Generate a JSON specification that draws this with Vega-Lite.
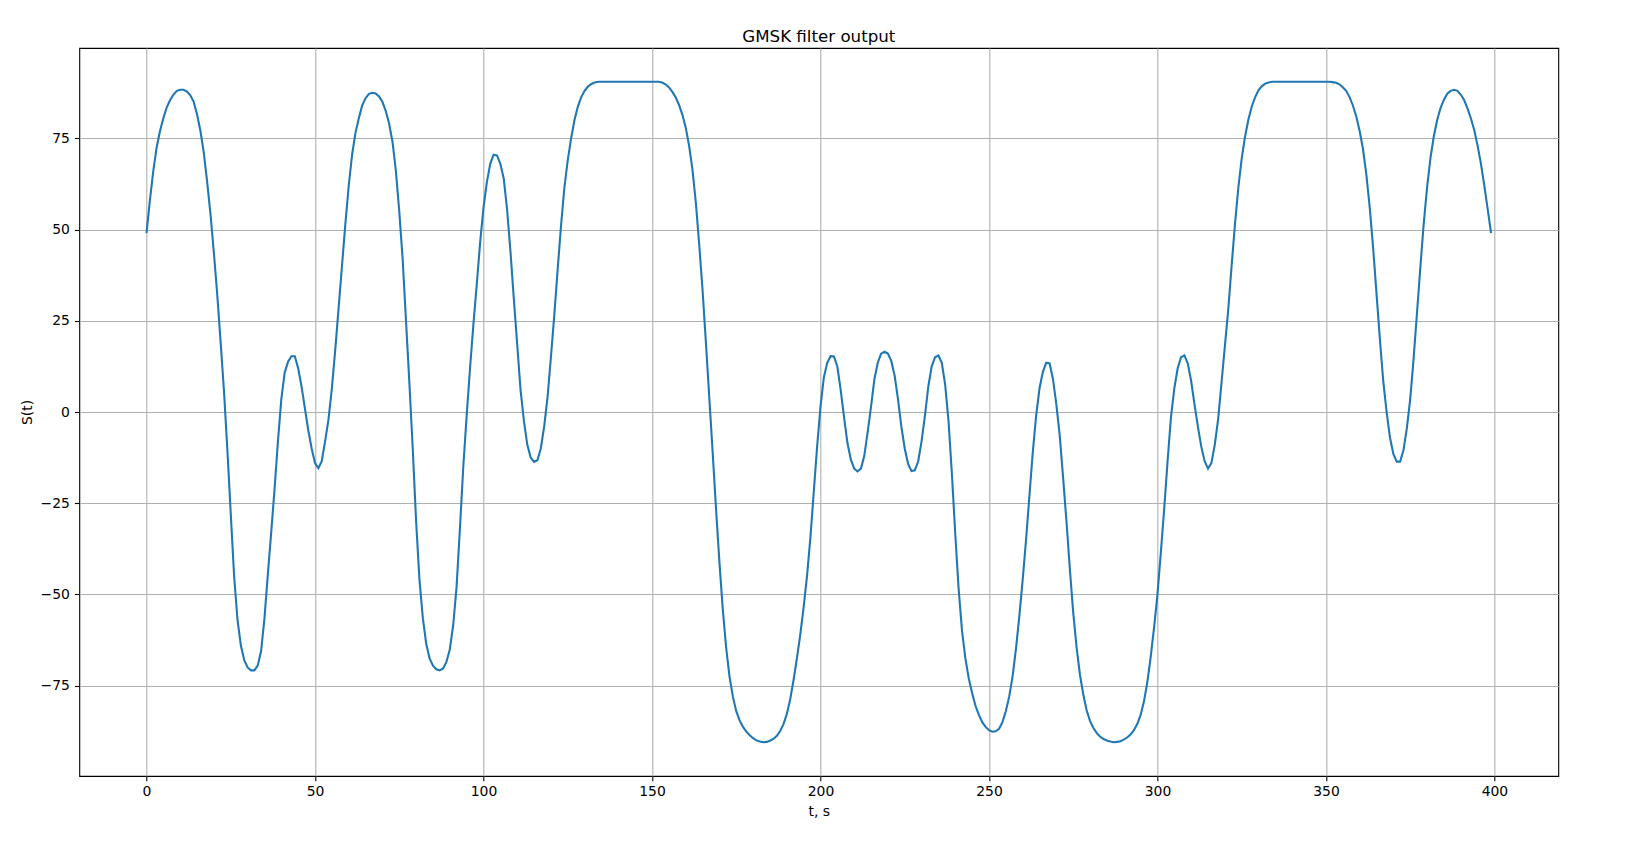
{
"$schema": "https://vega.github.io/schema/vega-lite/v6.json",
"width": 1479, "height": 728,
"autosize": {"type": "none"},
"padding": {"left": 79.3, "top": 48, "right": 87.7, "bottom": 84},
"background": "white",
"title": {"text": "GMSK filter output", "font": "DejaVu Sans", "fontSize": 16.67, "fontWeight": "normal", "color": "black", "anchor": "middle", "offset": 8, "baseline": "alphabetic", "dy": 19},
"config": {
 "view": {"stroke": "black", "strokeWidth": 1.1},
 "axis": {"domain": false, "ticks": true, "tickColor": "black", "tickSize": 4.86, "tickWidth": 1.1, "grid": true, "gridColor": "#b0b0b0", "gridWidth": 1.1, "gridOpacity": 1, "labelFont": "DejaVu Sans", "labelFontSize": 13.9, "labelColor": "black", "titleFont": "DejaVu Sans", "titleFontSize": 13.9, "titleFontWeight": "normal", "titleColor": "black"}
},
"data": {"values": [
{"t":0,"s":49},{"t":1,"s":58},{"t":2,"s":66},{"t":3,"s":72.5},{"t":4,"s":77},{"t":5,"s":80.5},{"t":6,"s":83.5},{"t":7,"s":85.5},{"t":8,"s":87},{"t":9,"s":88},
{"t":10,"s":88.3},{"t":11,"s":88.3},{"t":12,"s":87.8},{"t":13,"s":86.8},{"t":14,"s":85},{"t":15,"s":81.5},{"t":16,"s":77},{"t":17,"s":71},{"t":18,"s":63},{"t":19,"s":54},
{"t":20,"s":43.5},{"t":21,"s":32},{"t":22,"s":19},{"t":23,"s":5.5},{"t":24,"s":-10.5},{"t":25,"s":-28},{"t":26,"s":-45},{"t":27,"s":-57},{"t":28,"s":-64},{"t":29,"s":-68},
{"t":30,"s":-70},{"t":31,"s":-70.8},{"t":32,"s":-70.8},{"t":33,"s":-69.5},{"t":34,"s":-65.5},{"t":35,"s":-56.5},{"t":36,"s":-44.5},{"t":37,"s":-33},{"t":38,"s":-21},{"t":39,"s":-8},
{"t":40,"s":3.5},{"t":41,"s":10.8},{"t":42,"s":13.8},{"t":43,"s":15.3},{"t":44,"s":15.3},{"t":45,"s":12},{"t":46,"s":7},{"t":47,"s":1},{"t":48,"s":-5},{"t":49,"s":-10},
{"t":50,"s":-14},{"t":51,"s":-15.4},{"t":52,"s":-13.5},{"t":53,"s":-8},{"t":54,"s":-2},{"t":55,"s":6.5},{"t":56,"s":17},{"t":57,"s":28.5},{"t":58,"s":40},{"t":59,"s":51.5},
{"t":60,"s":62},{"t":61,"s":70.5},{"t":62,"s":76.5},{"t":63,"s":80.5},{"t":64,"s":84},{"t":65,"s":86},{"t":66,"s":87.2},{"t":67,"s":87.5},{"t":68,"s":87.3},{"t":69,"s":86.5},
{"t":70,"s":85},{"t":71,"s":82.5},{"t":72,"s":79},{"t":73,"s":74},{"t":74,"s":66},{"t":75,"s":55},{"t":76,"s":42},{"t":77,"s":25},{"t":78,"s":8},{"t":79,"s":-10},
{"t":80,"s":-30},{"t":81,"s":-46},{"t":82,"s":-56.5},{"t":83,"s":-63.5},{"t":84,"s":-67.5},{"t":85,"s":-69.5},{"t":86,"s":-70.5},{"t":87,"s":-70.8},{"t":88,"s":-70.3},{"t":89,"s":-68.5},
{"t":90,"s":-65},{"t":91,"s":-58.5},{"t":92,"s":-48},{"t":93,"s":-32},{"t":94,"s":-15},{"t":95,"s":-1},{"t":96,"s":12},{"t":97,"s":24},{"t":98,"s":35},{"t":99,"s":46.5},
{"t":100,"s":56},{"t":101,"s":63},{"t":102,"s":68},{"t":103,"s":70.5},{"t":104,"s":70.3},{"t":105,"s":68},{"t":106,"s":64},{"t":107,"s":55.5},{"t":108,"s":44},{"t":109,"s":31},
{"t":110,"s":18.5},{"t":111,"s":6},{"t":112,"s":-2.5},{"t":113,"s":-9},{"t":114,"s":-12.5},{"t":115,"s":-13.7},{"t":116,"s":-13.2},{"t":117,"s":-10},{"t":118,"s":-4},{"t":119,"s":4},
{"t":120,"s":15},{"t":121,"s":26.5},{"t":122,"s":39},{"t":123,"s":51},{"t":124,"s":61.5},{"t":125,"s":69},{"t":126,"s":75},{"t":127,"s":80},{"t":128,"s":83.7},{"t":129,"s":86.3},
{"t":130,"s":88},{"t":131,"s":89.2},{"t":132,"s":89.9},{"t":133,"s":90.3},{"t":134,"s":90.5},{"t":135,"s":90.5},{"t":136,"s":90.5},{"t":137,"s":90.5},{"t":138,"s":90.5},{"t":139,"s":90.5},
{"t":140,"s":90.5},{"t":141,"s":90.5},{"t":142,"s":90.5},{"t":143,"s":90.5},{"t":144,"s":90.5},{"t":145,"s":90.5},{"t":146,"s":90.5},{"t":147,"s":90.5},{"t":148,"s":90.5},{"t":149,"s":90.5},
{"t":150,"s":90.5},{"t":151,"s":90.5},{"t":152,"s":90.5},{"t":153,"s":90.3},{"t":154,"s":89.8},{"t":155,"s":89},{"t":156,"s":87.8},{"t":157,"s":86.3},{"t":158,"s":84.2},{"t":159,"s":81.5},
{"t":160,"s":78},{"t":161,"s":73},{"t":162,"s":66.5},{"t":163,"s":57.5},{"t":164,"s":46},{"t":165,"s":33.5},{"t":166,"s":19},{"t":167,"s":4},{"t":168,"s":-11},{"t":169,"s":-26.5},
{"t":170,"s":-41},{"t":171,"s":-54},{"t":172,"s":-64.5},{"t":173,"s":-72.5},{"t":174,"s":-78},{"t":175,"s":-82},{"t":176,"s":-84.5},{"t":177,"s":-86.3},{"t":178,"s":-87.6},{"t":179,"s":-88.6},
{"t":180,"s":-89.4},{"t":181,"s":-90},{"t":182,"s":-90.3},{"t":183,"s":-90.5},{"t":184,"s":-90.4},{"t":185,"s":-90.1},{"t":186,"s":-89.6},{"t":187,"s":-88.8},{"t":188,"s":-87.5},{"t":189,"s":-85.6},
{"t":190,"s":-82.8},{"t":191,"s":-78.8},{"t":192,"s":-73.5},{"t":193,"s":-67.5},{"t":194,"s":-61},{"t":195,"s":-53.5},{"t":196,"s":-45},{"t":197,"s":-34.5},{"t":198,"s":-22},{"t":199,"s":-9.5},
{"t":200,"s":1.5},{"t":201,"s":9.5},{"t":202,"s":13.5},{"t":203,"s":15.3},{"t":204,"s":15.2},{"t":205,"s":12.5},{"t":206,"s":6},{"t":207,"s":-1.5},{"t":208,"s":-8.5},{"t":209,"s":-13},
{"t":210,"s":-15.5},{"t":211,"s":-16.3},{"t":212,"s":-15.5},{"t":213,"s":-12},{"t":214,"s":-5.5},{"t":215,"s":1.5},{"t":216,"s":9},{"t":217,"s":13.5},{"t":218,"s":16},{"t":219,"s":16.5},
{"t":220,"s":16},{"t":221,"s":14},{"t":222,"s":10},{"t":223,"s":3.5},{"t":224,"s":-4},{"t":225,"s":-10},{"t":226,"s":-14.2},{"t":227,"s":-16.2},{"t":228,"s":-16},{"t":229,"s":-13.5},
{"t":230,"s":-8},{"t":231,"s":-1},{"t":232,"s":7},{"t":233,"s":12.5},{"t":234,"s":15},{"t":235,"s":15.5},{"t":236,"s":13.5},{"t":237,"s":7.5},{"t":238,"s":-2.5},{"t":239,"s":-17},
{"t":240,"s":-33.5},{"t":241,"s":-48.5},{"t":242,"s":-60},{"t":243,"s":-67.5},{"t":244,"s":-73},{"t":245,"s":-77},{"t":246,"s":-80.5},{"t":247,"s":-83},{"t":248,"s":-85},{"t":249,"s":-86.3},
{"t":250,"s":-87.2},{"t":251,"s":-87.6},{"t":252,"s":-87.5},{"t":253,"s":-86.8},{"t":254,"s":-85},{"t":255,"s":-82},{"t":256,"s":-78},{"t":257,"s":-72.5},{"t":258,"s":-65},{"t":259,"s":-56},
{"t":260,"s":-46},{"t":261,"s":-35},{"t":262,"s":-23},{"t":263,"s":-11},{"t":264,"s":-1},{"t":265,"s":6.5},{"t":266,"s":11},{"t":267,"s":13.5},{"t":268,"s":13.3},{"t":269,"s":9},
{"t":270,"s":2},{"t":271,"s":-6.5},{"t":272,"s":-18},{"t":273,"s":-30},{"t":274,"s":-43},{"t":275,"s":-55},{"t":276,"s":-64.5},{"t":277,"s":-72},{"t":278,"s":-77.5},{"t":279,"s":-81.8},
{"t":280,"s":-84.7},{"t":281,"s":-86.6},{"t":282,"s":-88},{"t":283,"s":-89},{"t":284,"s":-89.6},{"t":285,"s":-90},{"t":286,"s":-90.3},{"t":287,"s":-90.5},{"t":288,"s":-90.4},{"t":289,"s":-90.2},
{"t":290,"s":-89.8},{"t":291,"s":-89.2},{"t":292,"s":-88.4},{"t":293,"s":-87.2},{"t":294,"s":-85.5},{"t":295,"s":-83},{"t":296,"s":-79.3},{"t":297,"s":-74},{"t":298,"s":-67},{"t":299,"s":-59},
{"t":300,"s":-50},{"t":301,"s":-38.5},{"t":302,"s":-26.5},{"t":303,"s":-13.5},{"t":304,"s":-1.5},{"t":305,"s":6.5},{"t":306,"s":12},{"t":307,"s":15},{"t":308,"s":15.5},{"t":309,"s":13.3},
{"t":310,"s":8.5},{"t":311,"s":2},{"t":312,"s":-4},{"t":313,"s":-9.5},{"t":314,"s":-13.5},{"t":315,"s":-15.5},{"t":316,"s":-14},{"t":317,"s":-9},{"t":318,"s":-2},{"t":319,"s":8},
{"t":320,"s":18},{"t":321,"s":28},{"t":322,"s":40},{"t":323,"s":51.5},{"t":324,"s":61.5},{"t":325,"s":69.5},{"t":326,"s":75.5},{"t":327,"s":80.2},{"t":328,"s":83.8},{"t":329,"s":86.3},
{"t":330,"s":88.2},{"t":331,"s":89.3},{"t":332,"s":90},{"t":333,"s":90.3},{"t":334,"s":90.5},{"t":335,"s":90.5},{"t":336,"s":90.5},{"t":337,"s":90.5},{"t":338,"s":90.5},{"t":339,"s":90.5},
{"t":340,"s":90.5},{"t":341,"s":90.5},{"t":342,"s":90.5},{"t":343,"s":90.5},{"t":344,"s":90.5},{"t":345,"s":90.5},{"t":346,"s":90.5},{"t":347,"s":90.5},{"t":348,"s":90.5},{"t":349,"s":90.5},
{"t":350,"s":90.5},{"t":351,"s":90.5},{"t":352,"s":90.4},{"t":353,"s":90.2},{"t":354,"s":89.8},{"t":355,"s":89},{"t":356,"s":88},{"t":357,"s":86.3},{"t":358,"s":84},{"t":359,"s":81},
{"t":360,"s":77},{"t":361,"s":72},{"t":362,"s":65},{"t":363,"s":56},{"t":364,"s":45},{"t":365,"s":32.5},{"t":366,"s":20},{"t":367,"s":8.5},{"t":368,"s":0},{"t":369,"s":-7},
{"t":370,"s":-11.5},{"t":371,"s":-13.6},{"t":372,"s":-13.6},{"t":373,"s":-10.5},{"t":374,"s":-4.5},{"t":375,"s":3.5},{"t":376,"s":14.5},{"t":377,"s":27},{"t":378,"s":39.5},{"t":379,"s":51.5},
{"t":380,"s":61.5},{"t":381,"s":69.5},{"t":382,"s":75.5},{"t":383,"s":80},{"t":384,"s":83.3},{"t":385,"s":85.6},{"t":386,"s":87.2},{"t":387,"s":88},{"t":388,"s":88.3},{"t":389,"s":88},
{"t":390,"s":87},{"t":391,"s":85.5},{"t":392,"s":83.2},{"t":393,"s":80.5},{"t":394,"s":77.3},{"t":395,"s":73},{"t":396,"s":68},{"t":397,"s":62},{"t":398,"s":55.5},{"t":399,"s":49}
]},
"mark": {"type": "line", "color": "#1f77b4", "strokeWidth": 2.08, "clip": true},
"encoding": {
 "x": {"field": "t", "type": "quantitative", "scale": {"domain": [-19.95, 418.95], "nice": false, "zero": false},
  "axis": {"title": "t, s", "values": [0, 50, 100, 150, 200, 250, 300, 350, 400], "labelPadding": 4, "titlePadding": 6}},
 "y": {"field": "s", "type": "quantitative", "scale": {"domain": [-99.75, 99.75], "nice": false, "zero": false},
  "axis": {"title": "S(t)", "values": [-75, -50, -25, 0, 25, 50, 75], "labelPadding": 5, "titlePadding": 6}}
}
}
